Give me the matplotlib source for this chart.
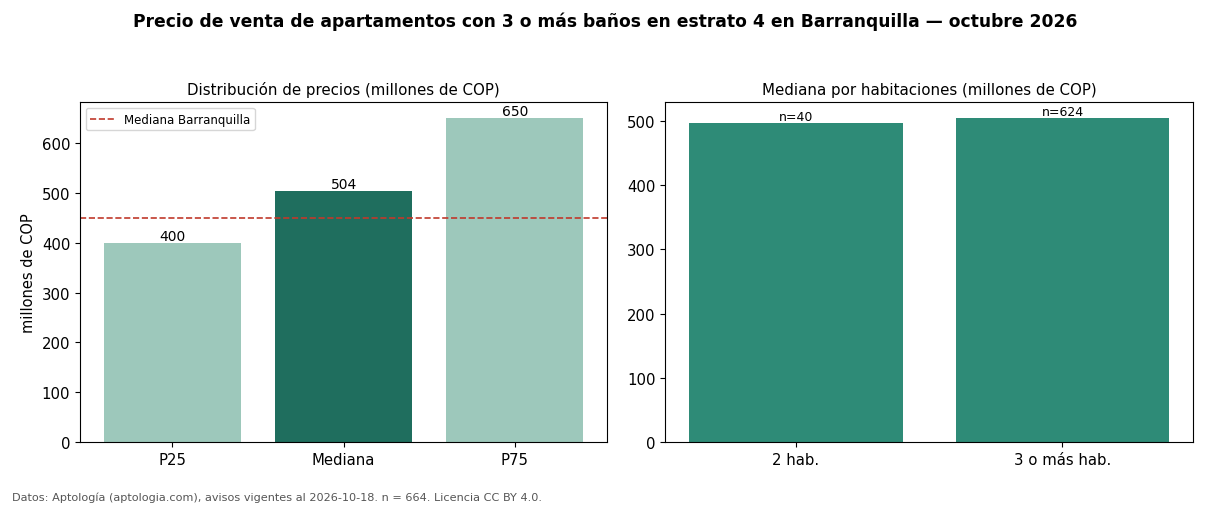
import matplotlib

matplotlib.use("Agg")
import matplotlib.pyplot as plt

plt.rcParams["font.family"] = ["DejaVu Sans"]

stats = ["P25", "Mediana", "P75"]
stat_values = [400, 504, 650]
city_median = 450

rooms = ["2 hab.", "3 o más hab."]
room_medians = [497, 504.5]
room_counts = [40, 624]

light = "#9dc8bb"
dark = "#1f6e5e"
mid = "#2e8b77"

fig, (ax1, ax2) = plt.subplots(1, 2, figsize=(12.1, 5.06), dpi=100)
fig.subplots_adjust(left=0.066, right=0.986, bottom=0.1245, top=0.7964, wspace=0.11)

bars = ax1.bar(stats, stat_values, width=0.8, color=[light, dark, light])
for b, v in zip(bars, stat_values):
    ax1.text(b.get_x() + b.get_width() / 2, v, f"{v}", ha="center", va="bottom", fontsize=10)
ax1.axhline(city_median, color="#c0392b", linestyle="--", linewidth=1.2, label="Mediana Barranquilla")
ax1.legend(loc="upper left", fontsize=8.5)
ax1.set_ylabel("millones de COP", fontsize=10.5)
ax1.set_title("Distribución de precios (millones de COP)", fontsize=10.8)
ax1.tick_params(labelsize=10.7)

bars2 = ax2.bar(rooms, room_medians, width=0.8, color=mid)
for b, v, n in zip(bars2, room_medians, room_counts):
    ax2.text(b.get_x() + b.get_width() / 2, v, f"n={n}", ha="center", va="bottom", fontsize=9)
ax2.set_title("Mediana por habitaciones (millones de COP)", fontsize=10.8)
ax2.tick_params(labelsize=10.7)

fig.suptitle("Precio de venta de apartamentos con 3 o más baños en estrato 4 en Barranquilla — octubre 2026",
             fontsize=12.3, fontweight="bold", y=0.975)
fig.text(0.01, 0.009, "Datos: Aptología (aptologia.com), avisos vigentes al 2026-10-18. n = 664. Licencia CC BY 4.0.",
         fontsize=8.1, color="#555555")

fig.savefig("out.png", dpi=100)
